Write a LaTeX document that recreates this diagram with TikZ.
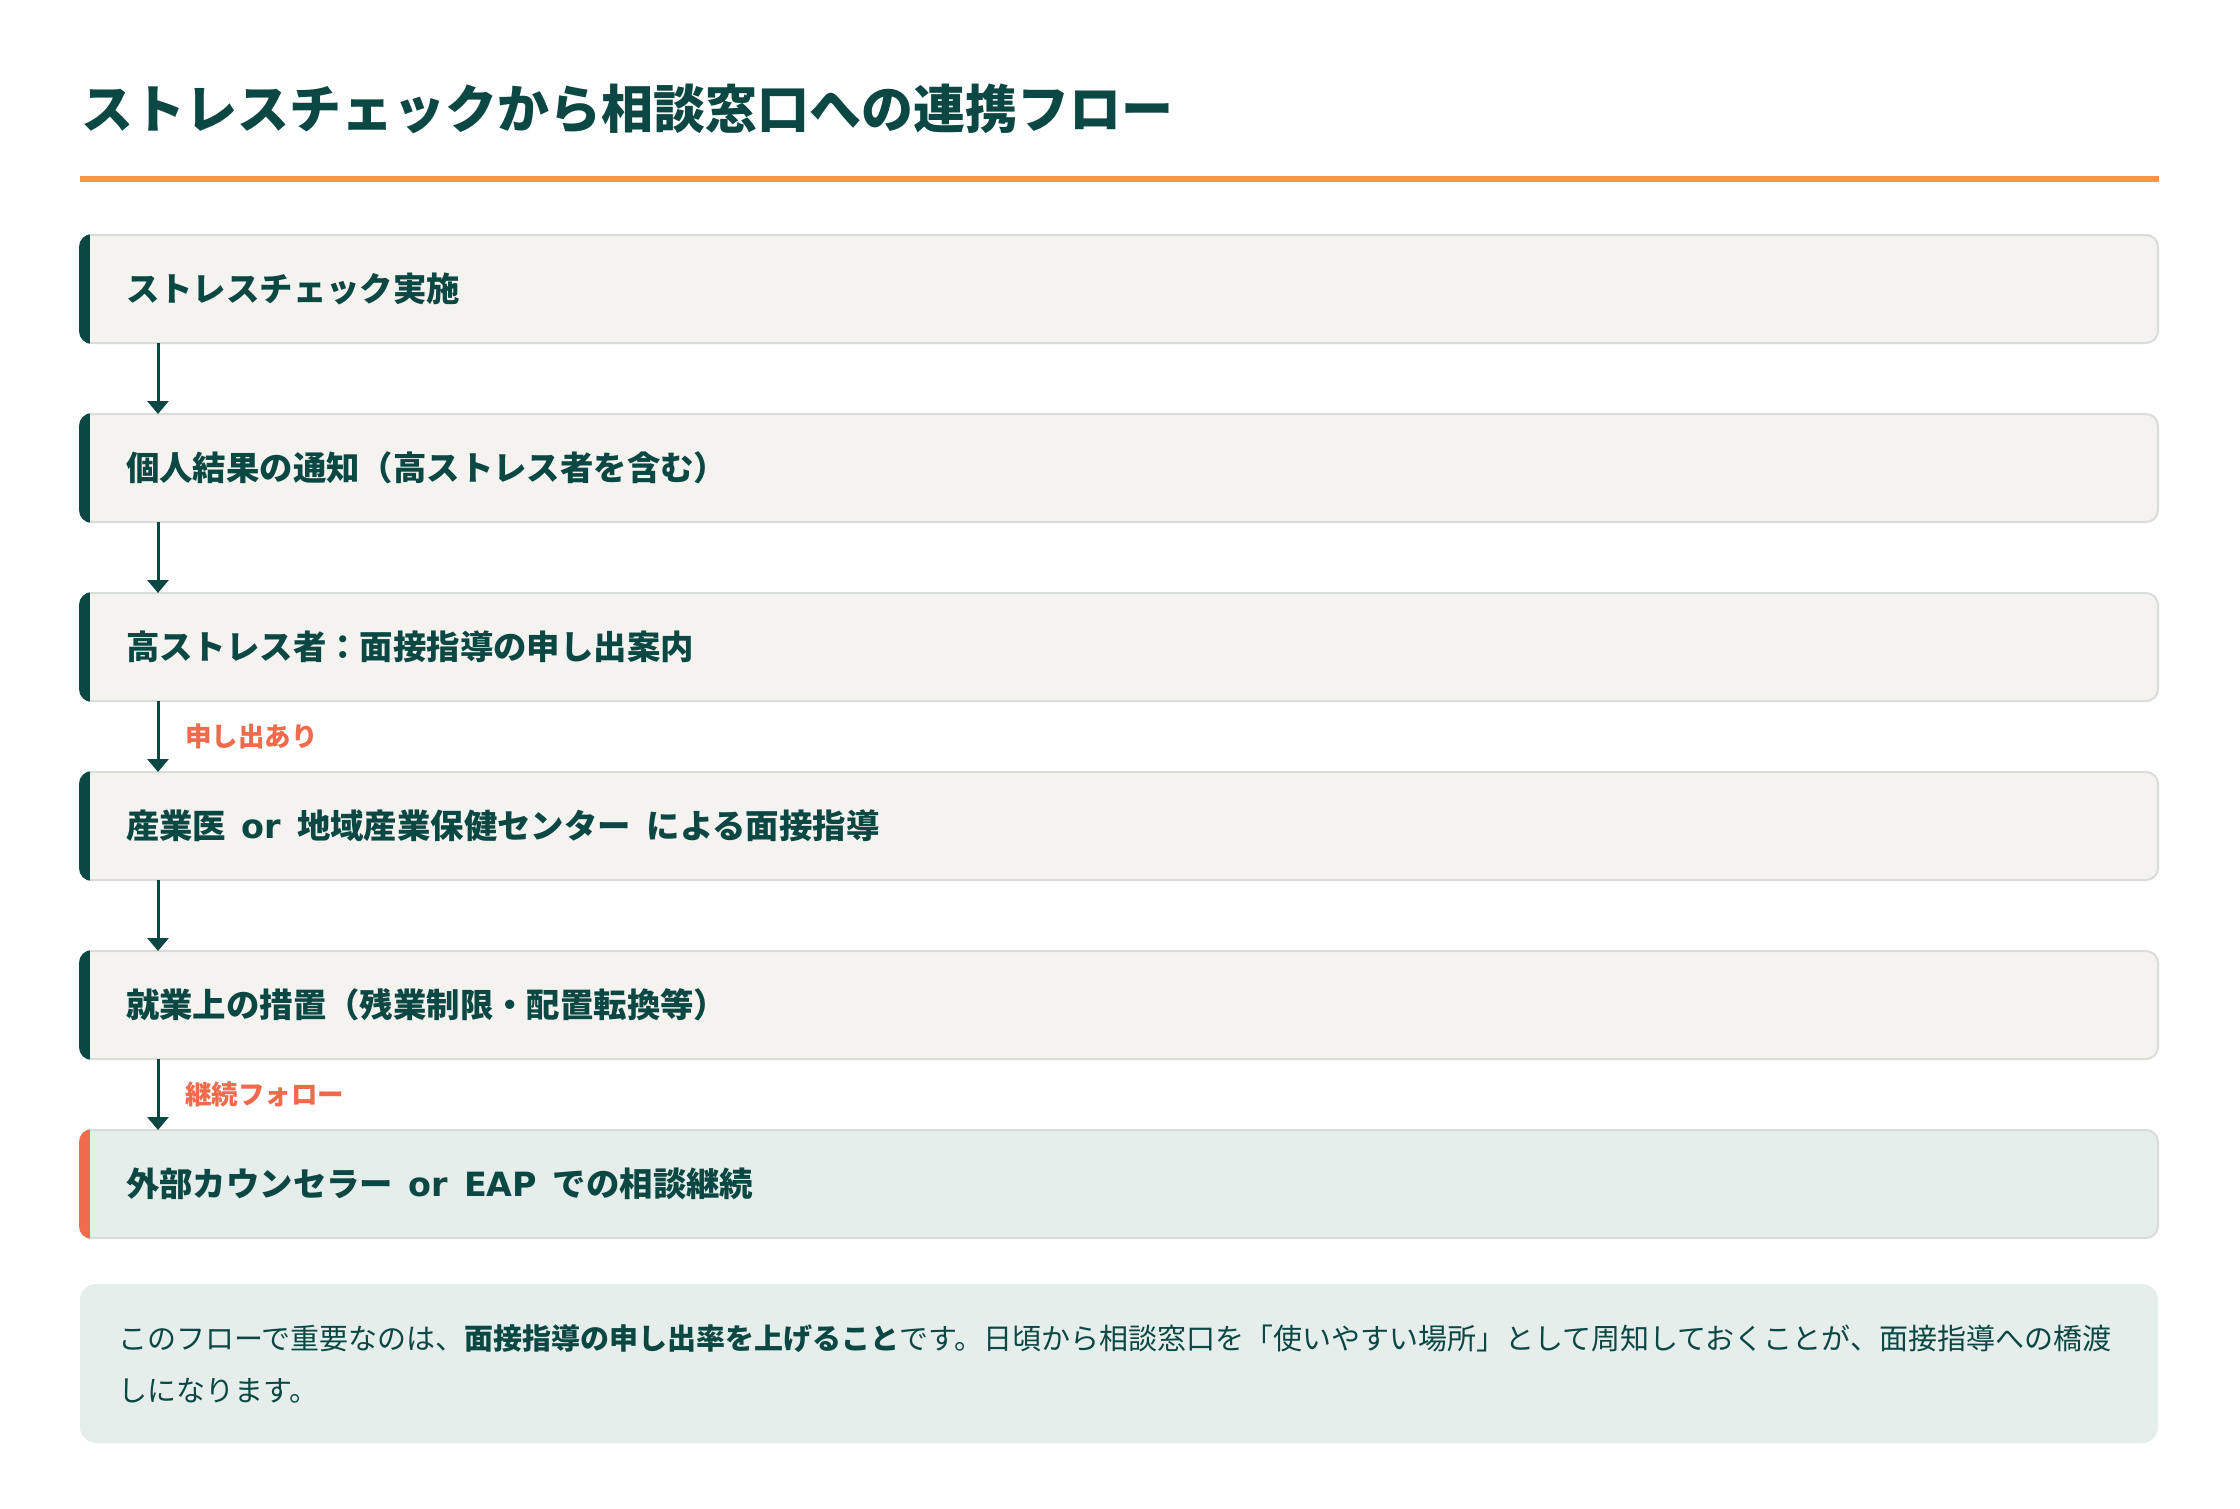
\documentclass[tikz,border=0pt]{standalone}
\usepackage{fontspec}
\setmainfont{Noto Sans CJK JP}
\newfontfamily\latinfont{DejaVu Sans}
\newcommand\latpart[1]{{\latinfont\spaceskip=0.47em\relax#1}}
\usetikzlibrary{arrows.meta}
\definecolor{ink}{HTML}{0B4743}
\definecolor{boxfill}{HTML}{F4F3EF}
\definecolor{boxline}{HTML}{D9DCD9}
\definecolor{accent}{HTML}{F06A4C}
\definecolor{rulecol}{HTML}{FF924D}
\definecolor{notefill}{HTML}{E6EEEC}
\definecolor{lastfill}{HTML}{E6EEEC}
\begin{document}
\begin{tikzpicture}[x=1pt,y=-1pt,
  stepbox/.style={draw=boxline, line width=2pt, fill=boxfill, rounded corners=12pt,
    minimum width=2078pt, minimum height=108pt, inner xsep=46pt, inner ysep=0pt,
    text width=1986pt, align=left, anchor=north west, outer sep=0pt,
    font=\fontsize{33.4}{40}\selectfont\bfseries, text=ink},
  flowarrow/.style={draw=ink, line width=3pt, -{Triangle[width=21pt,length=13pt]}, shorten >=0pt},
  steplabel/.style={anchor=west, inner sep=0pt, text=accent, font=\fontsize{26.5}{30}\selectfont\bfseries},
  notebox/.style={fill=notefill, rounded corners=16pt, minimum width=2078pt, minimum height=159pt,
    inner xsep=38pt, inner ysep=0pt, text width=2002pt, align=left, anchor=north west, outer sep=0pt,
    font=\fontsize{29}{52}\selectfont, text=ink}]
\useasboundingbox (0,0) rectangle (2240,1508);
\fill[white] (0,0) rectangle (2240,1508);

\node[anchor=west, inner sep=0pt, text=ink, font=\fontsize{52}{60}\selectfont\bfseries] (title) at (81,109) {ストレスチェックから相談窓口への連携フロー};
\coordinate (r1) at (80,179);
\coordinate (r2) at (2159,179);
\draw[rulecol, line width=6pt] (r1) -- (r2);

\node[stepbox] (b1) at (80,235) {ストレスチェック実施};
\node[stepbox] (b2) at (80,414) {個人結果の通知（高ストレス者を含む）};
\node[stepbox] (b3) at (80,593) {高ストレス者：面接指導の申し出案内};
\node[stepbox] (b4) at (80,772) {産業医\latpart{ or }地域産業保健センター\latpart{ }による面接指導};
\node[stepbox] (b5) at (80,951) {就業上の措置（残業制限・配置転換等）};
\node[stepbox, fill=lastfill] (b6) at (80,1130) {外部カウンセラー\latpart{ or EAP }での相談継続};

\foreach \b/\c in {b1/ink,b2/ink,b3/ink,b4/ink,b5/ink,b6/accent}{
  \begin{scope}
    \clip[rounded corners=13pt] ([xshift=-1pt,yshift=1pt]\b.north west) rectangle ([xshift=1pt,yshift=-1pt]\b.south east);
    \fill[\c] ([xshift=-3pt,yshift=3pt]\b.north west) rectangle ([xshift=10pt,yshift=-3pt]\b.south west);
  \end{scope}
}

\draw[flowarrow] ([xshift=78pt]b1.south west) -- ([xshift=78pt]b2.north west);
\draw[flowarrow] ([xshift=78pt]b2.south west) -- ([xshift=78pt]b3.north west);
\draw[flowarrow] ([xshift=78pt]b3.south west) -- ([xshift=78pt]b4.north west);
\draw[flowarrow] ([xshift=78pt]b4.south west) -- ([xshift=78pt]b5.north west);
\draw[flowarrow] ([xshift=78pt]b5.south west) -- ([xshift=78pt]b6.north west);

\node[steplabel] (l1) at (185,736) {申し出あり};
\node[steplabel] (l2) at (185,1094) {継続フォロー};

\node[notebox] (note) at (80,1284) {このフローで重要なのは、\textbf{面接指導の申し出率を上げること}です。日頃から相談窓口を「使いやすい場所」として周知しておくことが、面接指導への橋渡\\しになります。};
\end{tikzpicture}
\end{document}
